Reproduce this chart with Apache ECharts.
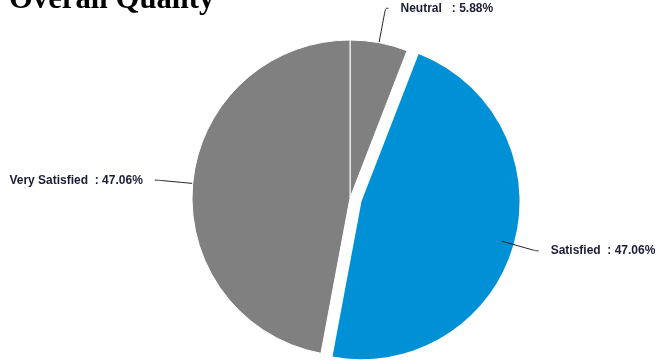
<!DOCTYPE html>
<html><head><meta charset="utf-8">
<script src="https://cdn.jsdelivr.net/npm/echarts@6/dist/echarts.min.js"></script>
<style>html,body{margin:0;padding:0;background:#fff}#c{width:658px;height:362px}</style>
</head><body><div id="c"></div>
<script>
const categories = ['Neutral', 'Satisfied', 'Very Satisfied'];
const labelNames = ['Neutral   ', 'Satisfied  ', 'Very Satisfied  '];
const values = [1, 8, 8];
const colors = ['#808080', '#0090d6', '#808080'];
const explodedIndex = 1;

const CX = 350, CY = 198, R = 158, OFFSET = 12;
const total = values.reduce((a, b) => a + b, 0);
const before = values.slice(0, explodedIndex).reduce((a, b) => a + b, 0);
const midAngle = (before + values[explodedIndex] / 2) / total * 2 * Math.PI;
const ex = CX + OFFSET * Math.sin(midAngle);
const ey = CY - OFFSET * Math.cos(midAngle);

const chart = echarts.init(document.getElementById('c'), null, {renderer: 'canvas'});
chart.setOption({
  animation: false,
  backgroundColor: '#ffffff',
  title: {
    text: 'Overall Quality',
    left: 4,
    top: -20,
    textStyle: {fontFamily: 'Liberation Serif', fontWeight: 'bold', fontSize: 30.7, color: '#000'}
  },
  series: [{
    type: 'pie',
    center: [CX, CY],
    radius: R,
    startAngle: 90,
    clockwise: true,
    avoidLabelOverlap: false,
    silent: true,
    z: 3,
    itemStyle: {borderColor: '#fff', borderWidth: 1},
    label: {
      show: true,
      position: 'outside',
      distanceToLabelLine: 12,
      fontFamily: 'Arial, Liberation Sans',
      fontWeight: 'bold',
      fontSize: 12,
      color: '#1c1c36',
      formatter: p => labelNames[p.dataIndex] + ': ' + p.percent.toFixed(2) + '%'
    },
    labelLine: {show: true, length: 35, length2: 3, smooth: true, lineStyle: {color: '#222', width: 1}},
    emphasis: {disabled: true},
    data: categories.map((c, i) => ({
      name: c, value: values[i],
      itemStyle: i === explodedIndex ? {color: 'rgba(0,0,0,0)', borderWidth: 0} : {color: colors[i]}
    }))
  }, {
    type: 'pie',
    center: [ex, ey],
    radius: R,
    startAngle: 90,
    clockwise: true,
    silent: true,
    z: 1,
    label: {show: false},
    labelLine: {show: false},
    emphasis: {disabled: true},
    data: categories.map((c, i) => ({
      name: c, value: values[i],
      itemStyle: i === explodedIndex ? {color: colors[i]} : {color: 'rgba(0,0,0,0)'}
    }))
  }]
});
</script></body></html>
